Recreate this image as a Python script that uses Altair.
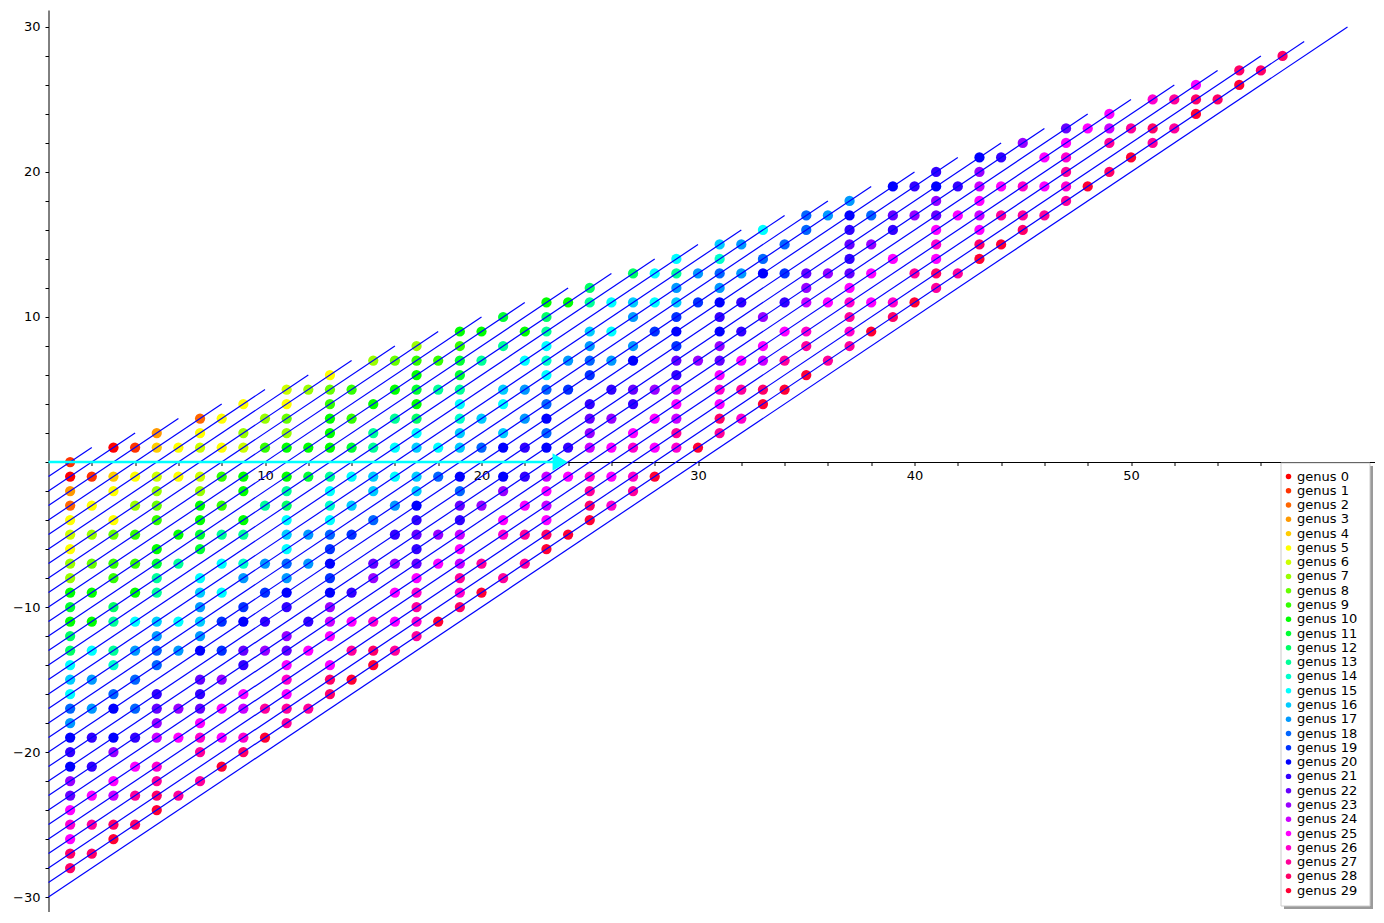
import altair as alt
import pandas as pd

# ---------------- data ----------------
genus_colors = ["#ff0000", "#ff3300", "#ff6600", "#ff9900", "#ffcc00", "#ffff00",
                "#ccff00", "#99ff00", "#66ff00", "#33ff00", "#00ff00", "#00ff33",
                "#00ff66", "#00ff99", "#00ffcc", "#00ffff", "#00ccff", "#0099ff",
                "#0066ff", "#0033ff", "#0000ff", "#3300ff", "#6600ff", "#9900ff",
                "#cc00ff", "#ff00ff", "#ff00cc", "#ff0099", "#ff0066", "#ff0033"]
genus_labels = ["genus %d" % i for i in range(30)]

# one entry per row of dots (y value), with the x positions and genus of each dot
row_y = [28, 27, 26, 25, 24, 23, 22, 21, 20, 19, 18, 17, 16, 15, 14, 13, 12, 11, 10, 9, 8,
         7, 6, 5, 4, 3, 2, 1, 0, -1, -2, -3, -4, -5, -6, -7, -8, -9, -10, -11, -12, -13,
         -14, -15, -16, -17, -18, -19, -20, -21, -22, -23, -24, -25, -26, -27, -28]
row_x = [
    [57],
    [55, 56],
    [53, 55],
    [51, 52, 53, 54],
    [49, 53],
    [47, 48, 49, 50, 51, 52],
    [45, 47, 49, 51],
    [43, 44, 46, 47, 50],
    [41, 43, 47, 49],
    [39, 40, 41, 42, 43, 44, 45, 46, 47, 48],
    [37, 41, 43, 47],
    [35, 36, 37, 38, 39, 40, 41, 42, 43, 44, 45, 46],
    [33, 35, 37, 39, 41, 43, 45],
    [31, 32, 34, 37, 38, 41, 43, 44],
    [29, 31, 33, 37, 39, 41, 43],
    [27, 28, 29, 30, 31, 32, 33, 34, 35, 36, 37, 38, 40, 41, 42],
    [25, 29, 31, 35, 37, 41],
    [23, 24, 25, 26, 27, 28, 29, 30, 31, 32, 34, 35, 36, 37, 38, 39, 40],
    [21, 23, 27, 29, 31, 33, 37, 39],
    [19, 20, 22, 23, 25, 26, 28, 29, 31, 32, 34, 35, 37, 38],
    [17, 19, 21, 23, 25, 27, 29, 31, 33, 35, 37],
    [15, 16, 17, 18, 19, 20, 22, 23, 24, 25, 26, 27, 29, 30, 31, 32, 33, 34, 36],
    [13, 17, 19, 23, 25, 29, 31, 35],
    [11, 12, 13, 14, 16, 17, 18, 19, 21, 22, 23, 24, 26, 27, 28, 29, 31, 32, 33, 34],
    [9, 11, 13, 15, 17, 19, 21, 23, 25, 27, 29, 31, 33],
    [7, 8, 10, 11, 13, 14, 16, 17, 19, 20, 22, 23, 25, 26, 28, 29, 31, 32],
    [5, 7, 9, 11, 13, 15, 17, 19, 21, 23, 25, 27, 29, 31],
    [3, 4, 5, 6, 7, 8, 9, 10, 11, 12, 13, 14, 15, 16, 17, 18, 19, 20, 21, 22, 23, 24,
     25, 26, 27, 28, 29, 30],
    [1],
    [1, 2, 3, 4, 5, 6, 7, 8, 9, 11, 12, 13, 14, 15, 16, 17, 18, 19, 21, 22, 23, 24,
     25, 26, 27, 28],
    [1, 3, 5, 7, 9, 11, 13, 15, 17, 19, 21, 23, 25, 27],
    [1, 2, 4, 5, 7, 8, 10, 11, 13, 14, 16, 17, 19, 20, 22, 23, 25, 26],
    [1, 3, 5, 7, 9, 11, 13, 15, 17, 19, 21, 23, 25],
    [1, 2, 3, 4, 6, 7, 8, 9, 11, 12, 13, 14, 16, 17, 18, 19, 21, 22, 23, 24],
    [1, 5, 7, 11, 13, 17, 19, 23],
    [1, 2, 3, 4, 5, 6, 8, 9, 10, 11, 12, 13, 15, 16, 17, 18, 19, 20, 22],
    [1, 3, 5, 7, 9, 11, 13, 15, 17, 19, 21],
    [1, 2, 4, 5, 7, 8, 10, 11, 13, 14, 16, 17, 19, 20],
    [1, 3, 7, 9, 11, 13, 17, 19],
    [1, 2, 3, 4, 5, 6, 7, 8, 9, 10, 12, 13, 14, 15, 16, 17, 18],
    [1, 5, 7, 11, 13, 17],
    [1, 2, 3, 4, 5, 6, 7, 8, 9, 10, 11, 12, 14, 15, 16],
    [1, 3, 5, 9, 11, 13, 15],
    [1, 2, 4, 7, 8, 11, 13, 14],
    [1, 3, 5, 7, 9, 11, 13],
    [1, 2, 3, 4, 5, 6, 7, 8, 9, 10, 11, 12],
    [1, 5, 7, 11],
    [1, 2, 3, 4, 5, 6, 7, 8, 9, 10],
    [1, 3, 7, 9],
    [1, 2, 4, 5, 8],
    [1, 3, 5, 7],
    [1, 2, 3, 4, 5, 6],
    [1, 5],
    [1, 2, 3, 4],
    [1, 3],
    [1, 2],
    [1],
]
row_genus = [
    [28],
    [28, 28],
    [25, 29],
    [26, 27, 28, 28],
    [25, 29],
    [22, 25, 24, 27, 28, 27],
    [23, 25, 27, 27],
    [20, 21, 25, 26, 29],
    [21, 23, 27, 28],
    [20, 21, 20, 21, 24, 25, 26, 25, 26, 29],
    [17, 23, 25, 27],
    [18, 17, 20, 18, 22, 23, 22, 25, 24, 27, 27, 27],
    [15, 18, 21, 21, 25, 25, 28],
    [16, 17, 18, 22, 23, 26, 28, 29],
    [15, 14, 18, 21, 25, 25, 29],
    [12, 15, 13, 17, 18, 17, 20, 19, 22, 23, 22, 25, 27, 28, 27],
    [12, 17, 17, 23, 25, 27],
    [10, 10, 13, 15, 16, 15, 16, 19, 20, 21, 21, 24, 25, 26, 25, 26, 29],
    [11, 12, 17, 19, 21, 23, 27, 28],
    [10, 10, 10, 13, 16, 15, 19, 20, 20, 21, 25, 26, 26, 29],
    [7, 9, 13, 15, 17, 17, 19, 23, 25, 27, 27],
    [7, 8, 9, 9, 11, 13, 15, 14, 17, 18, 17, 20, 22, 23, 22, 25, 24, 27, 27],
    [5, 10, 11, 15, 19, 21, 25, 29],
    [6, 7, 8, 9, 10, 11, 13, 13, 16, 17, 18, 19, 21, 22, 23, 24, 26, 27, 28, 29],
    [5, 5, 9, 10, 10, 15, 15, 18, 21, 21, 25, 25, 29],
    [2, 5, 7, 8, 10, 9, 13, 12, 14, 16, 17, 20, 22, 23, 25, 24, 28, 26],
    [3, 5, 7, 7, 10, 13, 15, 16, 16, 18, 23, 25, 27, 27],
    [0, 1, 4, 5, 6, 5, 6, 9, 10, 10, 10, 11, 13, 15, 16, 15, 16, 18, 20, 21, 20, 21,
     24, 25, 26, 25, 26, 29],
    [1],
    [0, 1, 4, 5, 6, 5, 6, 9, 10, 10, 11, 13, 15, 16, 15, 16, 18, 20, 20, 21, 24, 25,
     26, 25, 26, 29],
    [3, 5, 7, 7, 10, 13, 15, 16, 16, 18, 23, 25, 27, 27],
    [2, 5, 7, 8, 10, 9, 13, 12, 14, 16, 17, 20, 22, 23, 25, 24, 28, 26],
    [5, 5, 9, 10, 10, 15, 15, 18, 21, 21, 25, 25, 29],
    [6, 7, 8, 9, 10, 11, 13, 13, 16, 17, 18, 19, 21, 22, 23, 24, 26, 27, 28, 29],
    [5, 10, 11, 15, 19, 21, 25, 29],
    [7, 8, 9, 9, 11, 13, 15, 14, 17, 18, 17, 20, 22, 23, 22, 25, 24, 27, 27],
    [7, 9, 13, 15, 17, 17, 19, 23, 25, 27, 27],
    [10, 10, 10, 13, 16, 15, 19, 20, 20, 21, 25, 26, 26, 29],
    [11, 12, 17, 19, 21, 23, 27, 28],
    [10, 10, 13, 15, 16, 15, 16, 19, 20, 21, 21, 24, 25, 26, 25, 26, 29],
    [12, 17, 17, 23, 25, 27],
    [12, 15, 13, 17, 18, 17, 20, 19, 22, 23, 22, 25, 27, 28, 27],
    [15, 14, 18, 21, 25, 25, 29],
    [16, 17, 18, 22, 23, 26, 28, 29],
    [15, 18, 21, 21, 25, 25, 28],
    [18, 17, 20, 18, 22, 23, 22, 25, 24, 27, 27, 27],
    [17, 23, 25, 27],
    [20, 21, 20, 21, 24, 25, 26, 25, 26, 29],
    [21, 23, 27, 28],
    [20, 21, 25, 26, 29],
    [23, 25, 27, 27],
    [22, 25, 24, 27, 28, 27],
    [25, 29],
    [26, 27, 28, 28],
    [25, 29],
    [28, 28],
    [28],
]

# slanted blue segments: start (0, -k), end (2k, k)
seg_k = list(range(1, 31))
seg_x0 = [0] * 30
seg_y0 = [-k for k in seg_k]
seg_x1 = [2 * k for k in seg_k]
seg_y1 = seg_k

# cyan arrow along the x axis
arrow_x = [0, 23.5]
arrow_y = [0, 0]
arrow_tip_x = [23.63]

x_ticks = list(range(2, 62, 2))
y_ticks = list(range(-30, 32, 2))

# ---------------- tables ----------------
recs = []
for y, xs_, gs in zip(row_y, row_x, row_genus):
    for x, g in zip(xs_, gs):
        recs.append({"x": x, "y": y, "genus": g, "label": genus_labels[g]})
pts = pd.DataFrame(recs)
segs = pd.DataFrame({"x": seg_x0, "y": seg_y0, "x1": seg_x1, "y1": seg_y1})
arrow = pd.DataFrame({"x": arrow_x, "y": arrow_y})
tip = pd.DataFrame({"x": arrow_tip_x, "y": [0]})

# ---------------- layout ----------------
W, H = 1326.5, 902
XMIN, XMAX = 0, 61.27
YMIN, YMAX = -31.03, 31.17
y0_px = H * (YMAX - 0) / (YMAX - YMIN)

xs = alt.Scale(domain=[XMIN, XMAX], nice=False, zero=False)
ys = alt.Scale(domain=[YMIN, YMAX], nice=False, zero=False)
FONT = "DejaVu Sans"

x_axis = alt.Axis(values=x_ticks, orient="bottom", offset=-(H - y0_px), grid=False,
                  title=None, domainColor="black", domainWidth=1, tickColor="black",
                  tickSize=3.5, tickWidth=1, labelFont=FONT, labelFontSize=13,
                  labelColor="black", labelPadding=4, labelOverlap=False, labelFlush=False,
                  labelExpr="datum.value % 10 == 0 && datum.value < 60 ? datum.label : ''")
y_axis = alt.Axis(values=y_ticks, orient="left", grid=False, title=None,
                  domainColor="black", domainWidth=1, tickColor="black", tickSize=3.5,
                  tickWidth=1, labelFont=FONT, labelFontSize=13, labelColor="black",
                  labelPadding=5, labelOverlap=False, labelFlush=False,
                  labelExpr="datum.value % 10 == 0 && datum.value != 0 ? datum.label : ''")

X = lambda f: alt.X(f, scale=xs, axis=x_axis)
Y = lambda f: alt.Y(f, scale=ys, axis=y_axis)

# legend frame (box + drop shadow), in plot pixels
shadow = alt.Chart(tip).mark_rect(color="#9a9a9a").encode(
    x=alt.value(1235.5), x2=alt.value(1324.5), y=alt.value(456), y2=alt.value(899))
frame = alt.Chart(tip).mark_rect(fill="white", stroke="#cccccc", strokeWidth=1).encode(
    x=alt.value(1232.5), x2=alt.value(1321.5), y=alt.value(453), y2=alt.value(896))

points = alt.Chart(pts).mark_circle(size=105, opacity=1).encode(
    x=X("x:Q"), y=Y("y:Q"),
    color=alt.Color("label:N",
                    scale=alt.Scale(domain=genus_labels, range=genus_colors),
                    legend=alt.Legend(orient="none", legendX=1229.5, legendY=456,
                                      title=None, symbolType="circle", symbolSize=30,
                                      symbolStrokeWidth=0, labelFont=FONT,
                                      labelFontSize=13, labelColor="black",
                                      labelOffset=2, rowPadding=0.28, padding=4,
                                      symbolLimit=50)),
)

lines = alt.Chart(segs).mark_rule(color="#0000ff", strokeWidth=1.2).encode(
    x=X("x:Q"), y=Y("y:Q"), x2="x1:Q", y2="y1:Q")

arrow_line = alt.Chart(arrow).mark_line(color="#00ffff", strokeWidth=2.5).encode(
    x=X("x:Q"), y=Y("y:Q"))

arrow_head = alt.Chart(tip).mark_point(shape="triangle-right", size=300, filled=True,
                                       color="#00ffff", opacity=1).encode(
    x=X("x:Q"), y=Y("y:Q"))

chart = alt.layer(points, lines, arrow_line, arrow_head, shadow, frame).properties(
    width=W, height=H,
    background="white",
    autosize=alt.AutoSizeParams(type="none"),
    padding={"left": 40.5, "top": 2, "right": 0, "bottom": 0},
).configure_view(stroke=None, strokeWidth=0)

chart.save("out.html", embed_options={"renderer": "svg", "actions": False})
